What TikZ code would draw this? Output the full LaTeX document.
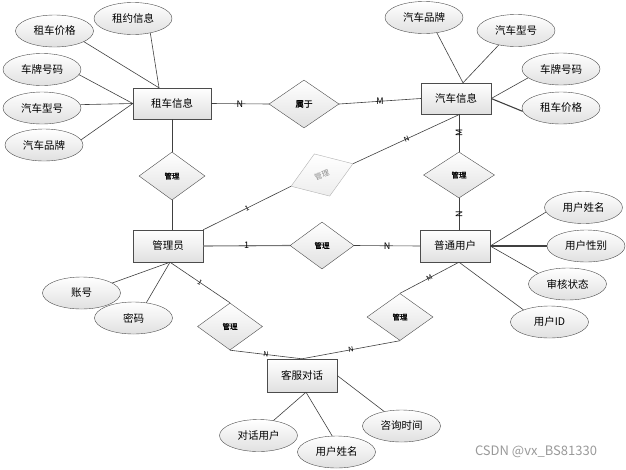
\documentclass[tikz,border=0pt]{standalone}
\usepackage{fontspec}
\setmainfont{Noto Sans CJK SC}
\newfontfamily\relfont[FakeBold=1.2]{Noto Sans CJK SC}
\usetikzlibrary{shapes.geometric,calc}

\begin{document}
\begin{tikzpicture}[x=1pt,y=-1pt,
    ent/.style={draw=black!70,rectangle,top color=white,bottom color=black!12,
      minimum width=70pt,minimum height=32pt,inner sep=0pt,font=\fontsize{10.5}{12}\selectfont},
    attr/.style={draw=black!70,ellipse,top color=white,bottom color=black!12,
      minimum width=78pt,minimum height=32pt,inner sep=0pt,font=\fontsize{10.5}{12}\selectfont},
    rel/.style={draw=black!70,diamond,top color=white,bottom color=black!12,
      minimum width=66pt,minimum height=47pt,inner sep=0pt,font=\relfont\fontsize{7.5}{9}\selectfont},
    lnk/.style={draw=black!75,line width=0.6pt},
    lbl/.style={font=\fontsize{9}{10}\selectfont,inner sep=0pt},
    lbls/.style={font=\fontsize{7}{8}\selectfont,inner sep=0pt,sloped}]
  \useasboundingbox (0,0) rectangle (626,469);
  % entities
  \node[ent,minimum width=78pt,minimum height=31pt] (zcxx) at (172,103.5) {租车信息};
  \node[ent,minimum height=31pt] (qcxx) at (456,98.5) {汽车信息};
  \node[ent] (gly) at (168,246) {管理员};
  \node[ent] (ptyh) at (455,246) {普通用户};
  \node[ent,minimum height=33pt] (kfdh) at (302,375.5) {客服对话};
  % relations
  \node[rel,minimum width=70pt,minimum height=48pt,font=\relfont\fontsize{8.5}{10}\selectfont] (sy) at (304,104) {属于};
  \node[rel,minimum height=48pt] (gl1) at (172,176) {管理};
  \node[rel,minimum width=71pt,minimum height=46pt] (gl2) at (459,175) {管理};
  \node[rel,minimum width=64pt] (gl3) at (322,245.5) {管理};
  \node[rel,minimum width=65pt] (gl4) at (230,326.5) {管理};
  \node[rel] (gl5) at (400,317) {管理};
  \node[rel,rotate=20,draw=black!30,text=black!45,bottom color=black!7,minimum height=45pt,
    font=\fontsize{7.5}{9}\selectfont] (gl6) at (322,175) {管理}; % faded one
  % attributes
  \node[attr] (zyxx) at (133,18.5) {租约信息};
  \node[attr] (zcjg1) at (54.5,31) {租车价格};
  \node[attr] (cphm1) at (42,69.5) {车牌号码};
  \node[attr] (qcxh1) at (42,108) {汽车型号};
  \node[attr] (qcpp1) at (44,145) {汽车品牌};
  \node[attr] (qcpp2) at (424,17.5) {汽车品牌};
  \node[attr] (qcxh2) at (516,30.5) {汽车型号};
  \node[attr] (cphm2) at (561,69) {车牌号码};
  \node[attr] (zcjg2) at (561,108) {租车价格};
  \node[attr] (zh) at (81.5,293) {账号};
  \node[attr] (mm) at (133.5,318) {密码};
  \node[attr] (yhxm1) at (583.5,207.5) {用户姓名};
  \node[attr] (yhxb) at (586,246) {用户性别};
  \node[attr] (shzt) at (567.5,284) {审核状态};
  \node[attr] (yhid) at (549.5,322) {用户ID};
  \node[attr] (dhyh) at (258.5,435.5) {对话用户};
  \node[attr] (yhxm2) at (336.5,452) {用户姓名};
  \node[attr] (zxsj) at (401.5,426) {咨询时间};
  \node[text=black!40,font=\fontsize{13}{15}\selectfont] (wm) at (536,452) {CSDN @vx\_BS81330};
  % attribute links
  \draw[lnk] (zyxx.-40) -- ($(zcxx.north)+(-13,0)$);
  \draw[lnk] (zcjg1.-20) -- ($(zcxx.north)+(-13,0)$);
  \draw[lnk] (cphm1.-8) -- (zcxx.west);
  \draw[lnk] (qcxh1.5) -- (zcxx.west);
  \draw[lnk] (qcpp1.8) -- (zcxx.west);
  \draw[lnk] (qcpp2.-50) -- ($(qcxx.north)+(7,0)$);
  \draw[lnk] (qcxh2.-140) -- ($(qcxx.north)+(7,0)$);
  \draw[lnk] (cphm2.-165) -- (qcxx.east);
  \draw[lnk,line width=1.1pt] (zcjg2.-175) -- (qcxx.east);
  \draw[lnk] (zh.18) -- ($(gly.south)+(2,0)$);
  \draw[lnk] (mm.50) -- ($(gly.south)+(2,0)$);
  \draw[lnk] (yhxm1.-173) -- (ptyh.east);
  \draw[lnk,line width=1.1pt] (yhxb.west) -- (ptyh.east);
  \draw[lnk] (shzt.160) -- (ptyh.east);
  \draw[lnk] (yhid.155) -- ($(ptyh.south)+(4,0)$);
  \draw[lnk] (dhyh.45) -- ($(kfdh.south)+(4,0)$);
  \draw[lnk] (yhxm2.105) -- ($(kfdh.south)+(4,0)$);
  \draw[lnk] (zxsj.140) -- (kfdh.east);
  % relation links
  \draw[lnk] (zcxx.east) -- node[lbl] {N} (sy.west);
  \draw[lnk] (sy.east) -- node[lbl] {M} (qcxx.west);
  \draw[lnk] (gl2.north) -- node[lbl,rotate=90] {M} (gl2.north |- qcxx.south);
  \draw[lnk] (ptyh.north -| gl2) -- node[lbl,rotate=90] {N} (gl2.south);
  \draw[lnk] ($(qcxx.south)+(4,0)$) -- node[lbls] {N} (gl6.east);
  \draw[lnk] (gl6.west) -- node[lbls] {1} (gly.north east);
  \draw[lnk] (zcxx.south) -- (gl1.north);
  \draw[lnk] (gl1.south) -- (gl1.south |- gly.north);
  \draw[lnk,line width=1.1pt,draw=black!55] (gly.east) -- node[lbl,text=black] {1} (gl3.west);
  \draw[lnk] (gl3.east) -- node[lbl] {N} (ptyh.west);
  \draw[lnk] ($(ptyh.south)+(4,0)$) -- node[lbls] {M} (gl5.north);
  \draw[lnk] (gl5.south) -- node[lbls] {N} (kfdh.north);
  \draw[lnk] (gl4.south) -- node[lbls] {N} (kfdh.north);
  \draw[lnk] ($(gly.south)+(2,0)$) -- node[lbls] {1} (gl4.north);
\end{tikzpicture}
\end{document}
